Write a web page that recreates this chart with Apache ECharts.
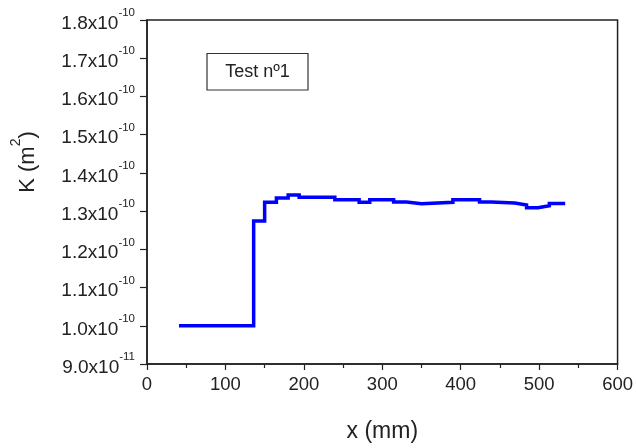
<!DOCTYPE html>
<html>
<head>
<meta charset="utf-8">
<script src="https://cdn.jsdelivr.net/npm/echarts@6/dist/echarts.min.js"></script>
<style>
  html, body { margin: 0; padding: 0; background: #fff; }
  #chart { width: 636px; height: 448px; }
</style>
</head>
<body>
<div id="chart"></div>
<script>
// Permeability profile, Test nº1. K stored in units of 1e-10 m².
// Each value holds between two consecutive x edges (mm).
const xEdges = [43, 136, 150, 165, 180, 194, 239.5, 270.5, 284, 314.5, 331, 350, 390, 424, 439, 469, 484, 498.5, 513, 531];
const kValues = [1.000, 1.274, 1.323, 1.334, 1.342, 1.336, 1.330, 1.323, 1.330, 1.324, 1.319, 1.323, 1.330, 1.324, 1.321, 1.316, 1.309, 1.314, 1.320];
const yTickMin = 0.9, yTickMax = 1.8, yTickStep = 0.1;
const xTickMin = 0, xTickMax = 600, xTickStep = 100;
const boxLabel = 'Test nº1';

const FONT = '"Liberation Sans", Arial, sans-serif';
const INK = '#222';

// step 'end': horizontal run at the current value, jump at the next edge
const stepData = xEdges.map((x, i) => [x, kValues[Math.min(i, kValues.length - 1)]]);

function yLabel(v) {
  const r = Math.round(v * 10) / 10;
  if (r < 1) return '{b|' + (r * 10).toFixed(1) + 'x10}{s|-11}';
  return '{b|' + r.toFixed(1) + 'x10}{s|-10}';
}

const chart = echarts.init(document.getElementById('chart'), null, { renderer: 'canvas' });
chart.setOption({
  animation: false,
  backgroundColor: '#fff',
  grid: {
    left: 147, top: 20, right: 18, bottom: 83,
    show: true, borderColor: INK, borderWidth: 1.5, backgroundColor: 'transparent'
  },
  xAxis: {
    type: 'value',
    min: xTickMin, max: xTickMax, interval: xTickStep,
    name: 'x (mm)',
    nameLocation: 'middle',
    nameGap: 56,
    nameTextStyle: { fontFamily: FONT, fontSize: 23, color: INK },
    axisLine: { show: true, onZero: false, lineStyle: { color: INK, width: 1.5 } },
    axisTick: { show: true, inside: false, length: 6, lineStyle: { color: INK, width: 1.2 } },
    minorTick: { show: true, splitNumber: 2, length: 4, lineStyle: { color: INK, width: 1.2 } },
    splitLine: { show: false },
    axisLabel: { fontFamily: FONT, fontSize: 18.5, color: INK, margin: 11 }
  },
  yAxis: {
    type: 'value',
    min: yTickMin, max: yTickMax, interval: yTickStep,
    axisLine: { show: true, onZero: false, lineStyle: { color: INK, width: 1.5 } },
    axisTick: { show: true, inside: false, length: 7, lineStyle: { color: INK, width: 1.2 } },
    splitLine: { show: false },
    axisLabel: {
      margin: 12,
      formatter: yLabel,
      rich: {
        b: { fontFamily: FONT, fontSize: 19, color: INK, lineHeight: 26, verticalAlign: 'bottom' },
        s: { fontFamily: FONT, fontSize: 11.5, color: INK, lineHeight: 13, verticalAlign: 'top' }
      }
    }
  },
  series: [{
    type: 'line',
    step: 'end',
    data: stepData,
    showSymbol: false,
    symbol: 'none',
    lineStyle: { color: '#0000ff', width: 3.5, cap: 'square', join: 'miter' },
    z: 3
  }],
  graphic: [
    {
      type: 'rect',
      shape: { x: 207, y: 53.5, width: 101, height: 36.5 },
      style: { fill: '#fff', stroke: '#333', lineWidth: 1.2 },
      z: 10
    },
    {
      type: 'text',
      x: 257.5, y: 72,
      style: {
        text: boxLabel, fontFamily: FONT, fontSize: 18, fill: INK,
        align: 'center', verticalAlign: 'middle'
      },
      z: 11
    },
    {
      type: 'text',
      x: 24, y: 162,
      rotation: Math.PI / 2,
      style: {
        text: '{b|K (m}{s|2}{b|)}',
        align: 'center', verticalAlign: 'middle',
        rich: {
          b: { fontFamily: FONT, fontSize: 22, fill: INK, lineHeight: 30, verticalAlign: 'bottom' },
          s: { fontFamily: FONT, fontSize: 14, fill: INK, lineHeight: 16, verticalAlign: 'top' }
        }
      },
      z: 11
    }
  ]
});
</script>
</body>
</html>
